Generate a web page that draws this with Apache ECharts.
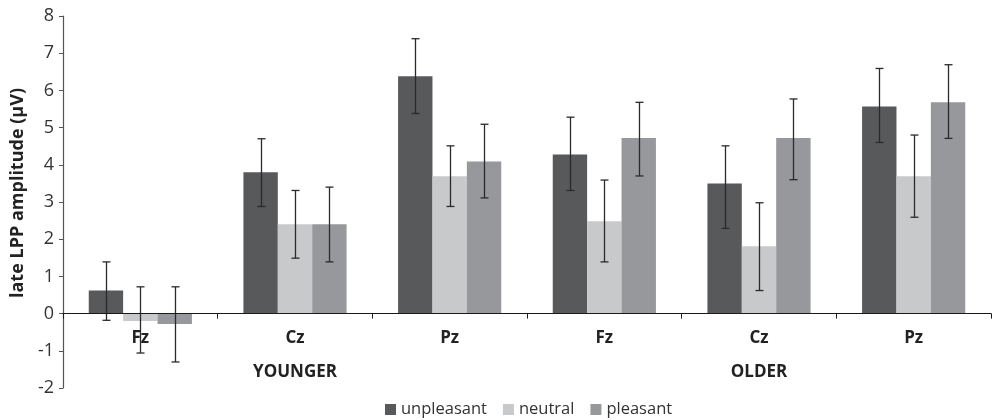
<!DOCTYPE html>
<html>
<head>
<meta charset="utf-8">
<script src="https://cdn.jsdelivr.net/npm/echarts@6/dist/echarts.min.js"></script>
<style>
  html, body { margin: 0; padding: 0; background: #ffffff; }
  #chart { width: 993px; height: 420px; }
</style>
</head>
<body>
<div id="chart"></div>
<script>
// Electrode sites, grouped by age group
const categories = ['Fz', 'Cz', 'Pz', 'Fz', 'Cz', 'Pz'];
// group name sits under the middle site of each group
const groupNames = ['', 'YOUNGER', '', '', 'OLDER', ''];

const seriesNames = ['unpleasant', 'neutral', 'pleasant'];

// Mean late LPP amplitude (µV)
const unpleasant = [0.62, 3.80, 6.38, 4.28, 3.50, 5.57];
const neutral    = [-0.20, 2.40, 3.69, 2.48, 1.81, 3.69];
const pleasant   = [-0.28, 2.40, 4.09, 4.72, 4.72, 5.68];

// Error bar ends (upper / lower)
const unpleasantHi = [1.39, 4.70, 7.39, 5.28, 4.51, 6.59];
const unpleasantLo = [-0.18, 2.88, 5.38, 3.31, 2.29, 4.60];
const neutralHi    = [0.72, 3.31, 4.51, 3.59, 2.98, 4.80];
const neutralLo    = [-1.06, 1.49, 2.88, 1.39, 0.62, 2.59];
const pleasantHi   = [0.72, 3.40, 5.09, 5.68, 5.77, 6.69];
const pleasantLo   = [-1.30, 1.39, 3.11, 3.70, 3.60, 4.71];

const yTicks = { min: -2, max: 8, interval: 1 };

const colors = ['#58595b', '#c8c9cb', '#97989b'];
const barCategoryGapRatio = 0.333;
const FONT = '"Open Sans", "Noto Sans", sans-serif';

const means = [unpleasant, neutral, pleasant];
const highs = [unpleasantHi, neutralHi, pleasantHi];
const lows = [unpleasantLo, neutralLo, pleasantLo];

// axis label text: site name, with the age group on a second line where given
const axisLabels = categories.map((c, i) => groupNames[i] ? c + '\n' + groupNames[i] : c);

const chart = echarts.init(document.getElementById('chart'), null, { renderer: 'canvas' });

const barSeries = seriesNames.map((name, s) => ({
  name: name,
  type: 'bar',
  data: means[s],
  barGap: '0%',
  barCategoryGap: '33.3%',
  itemStyle: { color: colors[s] },
  z: 2
}));

const errorSeries = seriesNames.map((name, s) => ({
  name: name + ' error',
  type: 'custom',
  data: categories.map((c, i) => [i, lows[s][i], highs[s][i]]),
  z: 5,
  silent: true,
  renderItem: function (params, api) {
    const idx = api.value(0);
    const catWidth = api.size([1, 0])[0];
    const barW = catWidth * (1 - barCategoryGapRatio) / 3;
    const lo = api.coord([idx, api.value(1)]);
    const hi = api.coord([idx, api.value(2)]);
    const x = Math.round(lo[0] + (s - 1) * barW) + 0.5;
    const cap = 4;
    const style = { stroke: '#2a2a2a', lineWidth: 1.3 };
    return {
      type: 'group',
      children: [
        { type: 'line', shape: { x1: x, y1: hi[1], x2: x, y2: lo[1] }, style: style },
        { type: 'line', shape: { x1: x - cap, y1: hi[1], x2: x + cap, y2: hi[1] }, style: style },
        { type: 'line', shape: { x1: x - cap, y1: lo[1], x2: x + cap, y2: lo[1] }, style: style }
      ]
    };
  }
}));

const option = {
  animation: false,
  backgroundColor: '#ffffff',
  textStyle: { fontFamily: FONT },
  grid: { left: 63, right: 2, top: 16, bottom: 32, containLabel: false, outerBoundsMode: 'none' },
  legend: {
    data: seriesNames,
    left: 380,
    top: 396,
    itemWidth: 11,
    itemHeight: 11,
    itemGap: 16,
    icon: 'rect',
    textStyle: { fontFamily: FONT, fontSize: 16.5, color: '#333333' }
  },
  xAxis: {
    type: 'category',
    data: axisLabels,
    z: 10,
    axisLine: { onZero: true, lineStyle: { color: '#1a1a1a', width: 1.2 } },
    axisTick: { show: true, alignWithLabel: false, length: 5, lineStyle: { color: '#1a1a1a' } },
    axisLabel: {
      interval: 0,
      // labels are laid out from the grid's bottom edge; pull them up under the zero line
      margin: -67,
      hideOverlap: false,
      verticalAlign: 'top',
      fontFamily: FONT,
      fontSize: 17,
      fontWeight: 'bold',
      color: '#222222',
      lineHeight: 34
    },
    splitLine: { show: false }
  },
  yAxis: {
    type: 'value',
    min: yTicks.min,
    max: yTicks.max,
    interval: yTicks.interval,
    name: 'late LPP amplitude (µV)',
    nameLocation: 'middle',
    nameGap: 36,
    nameRotate: 90,
    nameTextStyle: { fontFamily: FONT, fontSize: 18, fontWeight: 'bold', color: '#222222', padding: [0, 0, 0, 18] },
    axisLine: { show: true, lineStyle: { color: '#555555', width: 1.2 } },
    axisTick: { show: true, inside: false, length: 4, lineStyle: { color: '#555555' } },
    axisLabel: { fontFamily: FONT, fontSize: 18, color: '#333333', margin: 9 },
    splitLine: { show: false }
  },
  series: barSeries.concat(errorSeries)
};

chart.setOption(option);
</script>
</body>
</html>
